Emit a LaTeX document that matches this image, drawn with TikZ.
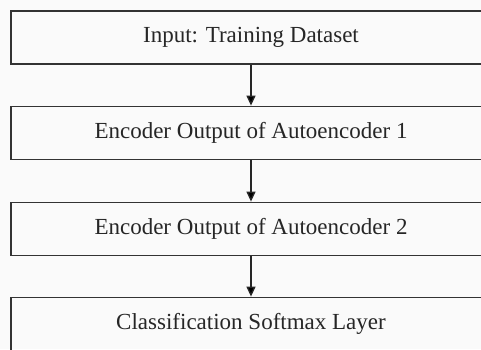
\documentclass[tikz,border=0pt]{standalone}
\usepackage{fontspec}
\setmainfont{Liberation Serif}
\usetikzlibrary{arrows.meta}

\tikzset{stagebox/.style={shape=rectangle,draw=black!80,line width=1.8pt,
        minimum width=480pt,minimum height=53pt,text=black!85,
        font=\fontsize{23}{27}\selectfont},
        flow/.style={draw=black!85,line width=1.3pt,
        -{Triangle[width=9pt,length=10pt]}}}

\begin{document}
\begin{tikzpicture}[x=1pt,y=1pt]
        \clip (0,0) rectangle (481,349);
        \fill[white!98!black] (0,0) rectangle (481,349);

        \node[stagebox] (input) at (251,311.5) {Input: Training Dataset};
        \node[stagebox] (enc1) at (251,216) {Encoder Output of Autoencoder 1};
        \node[stagebox] (enc2) at (251,120) {Encoder Output of Autoencoder 2};
        \node[stagebox] (softmax) at (251,25) {Classification Softmax Layer};

        \path [flow] (input) edge (enc1);
        \path [flow] (enc1) edge (enc2);
        \path [flow] (enc2) edge (softmax);
      \end{tikzpicture}
\end{document}
